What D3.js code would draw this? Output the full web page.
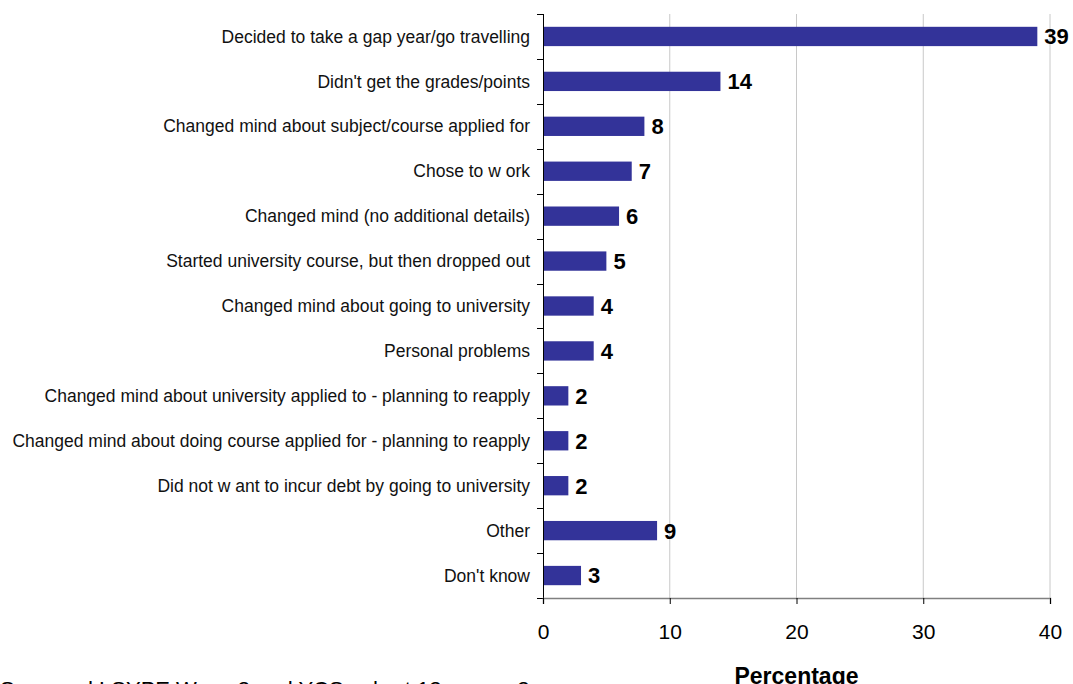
<!DOCTYPE html>
<html>
<head>
<meta charset="utf-8">
<script src="https://cdn.jsdelivr.net/npm/d3@7"></script>
<style>
  html, body { margin: 0; padding: 0; background: #fff; overflow: hidden; }
  svg { display: block; font-family: "Liberation Sans", Arial, sans-serif; }
</style>
</head>
<body>
<svg id="chart" width="1073" height="684"></svg>
<script>
const categories = [
  "Decided to take a gap year/go travelling",
  "Didn't get the grades/points",
  "Changed mind about subject/course applied for",
  "Chose to w ork",
  "Changed mind (no additional details)",
  "Started university course, but then dropped out",
  "Changed mind about going to university",
  "Personal problems",
  "Changed mind about university applied to - planning to reapply",
  "Changed mind about doing course applied for - planning to reapply",
  "Did not w ant to incur debt by going to university",
  "Other",
  "Don't know"
];
const values = [39, 14, 8, 7, 6, 5, 4, 4, 2, 2, 2, 9, 3];
const xTicks = [0, 10, 20, 30, 40];
const xTitle = "Percentage";
const sourceNote = "Surveyed LSYPE Wave 3 and YCS cohort 12 sweep 2";

const svg = d3.select("#chart");
const mLeft = 543, mRight = 1050, mTop = 14, mBottom = 598;

const x = d3.scaleLinear().domain([0, 40]).range([mLeft, mRight]);
const y = d3.scaleBand().domain(categories).range([mTop, mBottom])
  .paddingInner(0.57).paddingOuter(0.285);
const yBoundaries = d3.scaleLinear().domain([0, categories.length]).range([mTop, mBottom]);

// gridlines
svg.append("g").selectAll("line").data(xTicks.filter(d => d > 0)).join("line")
  .attr("x1", d => x(d)).attr("x2", d => x(d))
  .attr("y1", mTop).attr("y2", mBottom)
  .attr("stroke", "#c8c8c8").attr("stroke-width", 1);

// bars
svg.append("g").selectAll("rect").data(values).join("rect")
  .attr("x", x(0))
  .attr("y", (d, i) => y(categories[i]))
  .attr("width", d => x(d) - x(0))
  .attr("height", y.bandwidth())
  .attr("fill", "#333399");

// value labels
svg.append("g").selectAll("text").data(values).join("text")
  .attr("x", d => x(d) + 7)
  .attr("y", (d, i) => y(categories[i]) + y.bandwidth() / 2)
  .attr("dy", "0.36em")
  .attr("font-size", 22).attr("font-weight", "bold").attr("fill", "#000")
  .text(d => d);

// y axis
const yAxisG = svg.append("g");
yAxisG.append("line")
  .attr("x1", x(0) + 0.5).attr("x2", x(0) + 0.5)
  .attr("y1", mTop).attr("y2", mBottom)
  .attr("stroke", "#000").attr("stroke-width", 1);
yAxisG.selectAll("line.tick").data(d3.range(categories.length + 1)).join("line")
  .attr("class", "tick")
  .attr("x1", x(0) - 6).attr("x2", x(0))
  .attr("y1", d => Math.round(yBoundaries(d)) + 0.5)
  .attr("y2", d => Math.round(yBoundaries(d)) + 0.5)
  .attr("stroke", "#000");
yAxisG.selectAll("text").data(categories).join("text")
  .attr("x", x(0) - 13)
  .attr("y", d => y(d) + y.bandwidth() / 2)
  .attr("dy", "0.35em")
  .attr("text-anchor", "end")
  .attr("font-size", 17.5).attr("fill", "#111")
  .text(d => d);

// x axis
const xAxis = d3.axisBottom(x).tickValues(xTicks).tickSize(6).tickPadding(20);
const xg = svg.append("g").attr("transform", `translate(0,${mBottom})`).call(xAxis);
xg.select(".domain").attr("stroke", "#808080").attr("stroke-width", 1.5);
xg.selectAll(".tick line").attr("stroke", "#000");
xg.selectAll(".tick text").attr("font-size", 21).attr("fill", "#000")
  .attr("font-family", "Liberation Sans, Arial, sans-serif");

// axis title
svg.append("text")
  .attr("x", (mLeft + mRight) / 2).attr("y", 684)
  .attr("text-anchor", "middle")
  .attr("font-size", 23).attr("font-weight", "bold").attr("fill", "#000")
  .text(xTitle);

// source note (cut off at bottom, as in the reference)
svg.append("text")
  .attr("x", 0).attr("y", 697)
  .attr("font-size", 22).attr("fill", "#000")
  .text(sourceNote);
</script>
</body>
</html>
